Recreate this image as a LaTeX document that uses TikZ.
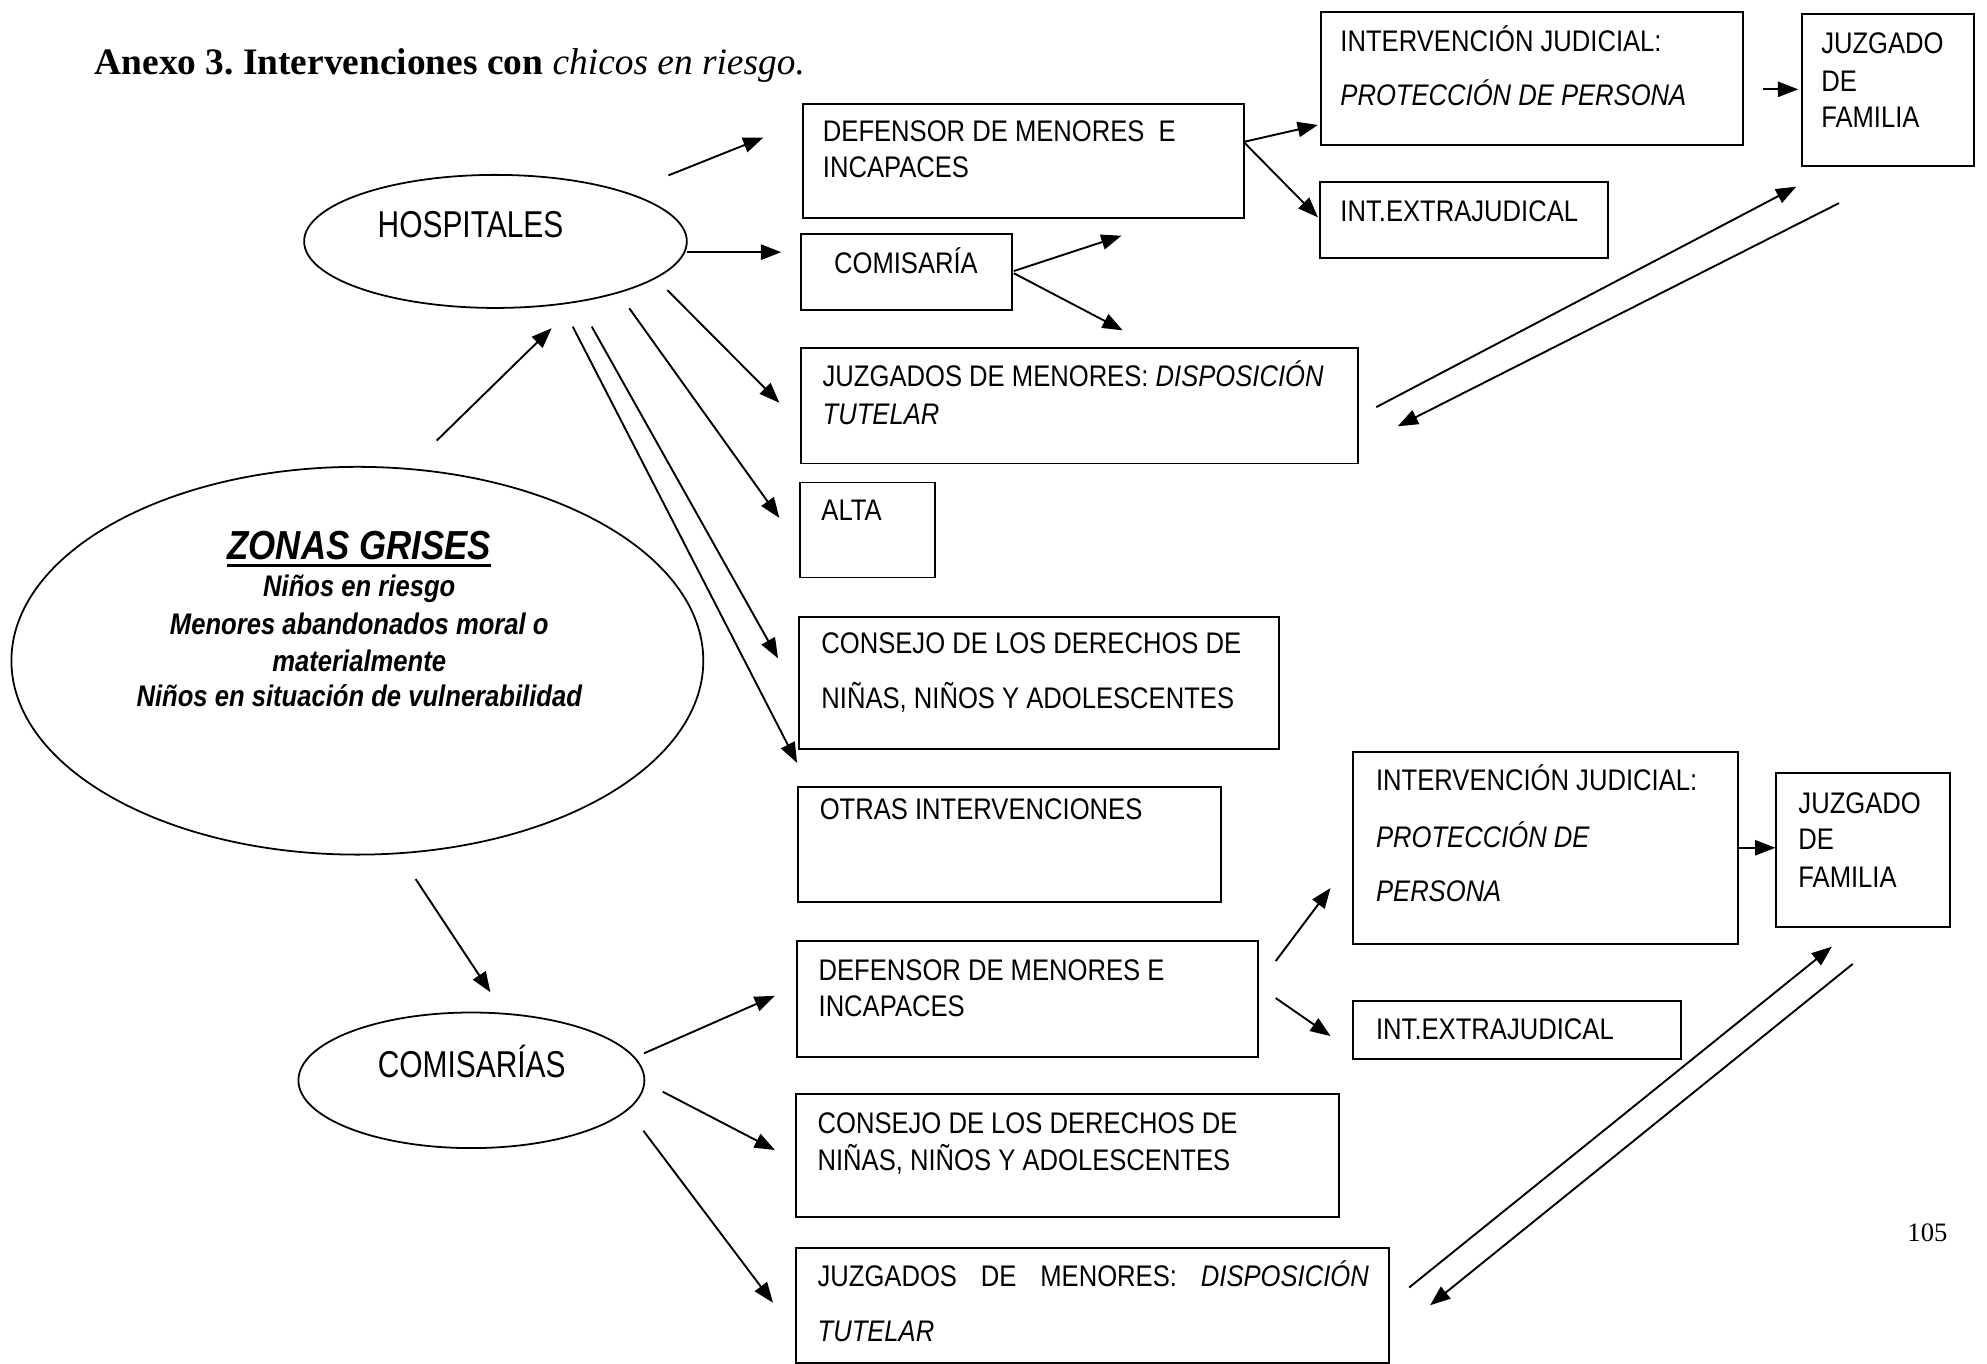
\documentclass[tikz,border=0pt]{standalone}
\usepackage{fontspec}
\setmainfont{Liberation Sans}
\newfontfamily\boxfont{Liberation Sans}[FakeStretch=0.86]
\newfontfamily\ellfont{Liberation Sans}[FakeStretch=0.8]
\newfontfamily\titlefont{Liberation Serif}
\usetikzlibrary{shapes.geometric,arrows.meta}
\tikzset{
  box/.style={draw, line width=1.5pt, rectangle, inner sep=0pt, anchor=north west},
  ell/.style={draw, line width=1.4pt, ellipse, inner sep=0pt},
  btxt/.style={anchor=base west, inner sep=0pt, font=\boxfont\fontsize{23.5}{28}\selectfont},
  etxt/.style={anchor=base, inner sep=0pt, font=\ellfont\fontsize{29.5}{34}\selectfont},
  ztxt/.style={anchor=base, inner sep=0pt, font=\boxfont\bfseries\itshape\fontsize{23.5}{26}\selectfont},
  arr/.style={line width=1.5pt, -{Triangle[length=16pt,width=12pt]}},
}
\begin{document}
\begin{tikzpicture}[x=1pt,y=-1pt]
\useasboundingbox (0,0) rectangle (1568,1075.6);

% title and page number
\node[anchor=base west, inner sep=0pt, font=\titlefont\fontsize{29.5}{34}\selectfont] (title) at (74.5,59)
  {\textbf{Anexo 3.\ Intervenciones con} \textit{chicos en riesgo.}};
\node[anchor=base west, inner sep=0pt, font=\titlefont\fontsize{21}{24}\selectfont] (pg) at (1505,980) {105};

% ellipses
\node[ell, minimum width=302, minimum height=105] (hosp) at (391,190.5) {};
\node[etxt] (hospt) at (371.3,187.3) {HOSPITALES};
\node[ell, minimum width=546, minimum height=306] (zon) at (282,521.4) {};
\node[ztxt, font=\boxfont\bfseries\itshape\fontsize{32}{36}\selectfont] (zg) at (283.5,441.5) {ZONAS GRISES};
\draw[line width=2.2pt] ([yshift=-4.5pt]zg.base west) -- ([yshift=-4.5pt]zg.base east);
\node[ztxt] (z1) at (283.5,470.5) {Niños en riesgo};
\node[ztxt] (z2) at (283.5,500.5) {Menores abandonados moral o};
\node[ztxt] (z3) at (283.5,529.5) {materialmente};
\node[ztxt] (z4) at (283.5,557.4) {Niños en situación de vulnerabilidad};
\node[ell, minimum width=273, minimum height=107] (comis) at (372,852.5) {};
\node[etxt] (comist) at (372.2,850) {COMISARÍAS};

% upper boxes
\node[box, minimum width=348, minimum height=90] (def1) at (633,81) {};
\node[btxt] (def1a) at (649.2,111.5) {DEFENSOR DE MENORES\ \ E};
\node[btxt] (def1b) at (649.2,140) {INCAPACES};

\node[box, minimum width=166.5, minimum height=60] (com) at (631.5,184) {};
\node[btxt] (comt) at (658,215.5) {COMISARÍA};

\node[box, minimum width=439.5, minimum height=91] (juz1) at (631.5,274) {};
\node[btxt] (juz1a) at (649,305) {JUZGADOS DE MENORES: \textit{DISPOSICIÓN}};
\node[btxt] (juz1b) at (649,335) {\textit{TUTELAR}};

\node[box, minimum width=106.5, minimum height=75] (alta) at (630.5,380) {};
\node[btxt] (altat) at (648,411) {ALTA};

\node[box, minimum width=378.5, minimum height=104] (cons1) at (630,486) {};
\node[btxt] (cons1a) at (648,516) {CONSEJO DE LOS DERECHOS DE};
\node[btxt] (cons1b) at (648,559) {NIÑAS, NIÑOS Y ADOLESCENTES};

\node[box, minimum width=334, minimum height=91] (otras) at (629,620) {};
\node[btxt] (otrast) at (646.7,647) {OTRAS INTERVENCIONES};

\node[box, minimum width=333, minimum height=105] (int1) at (1042,9) {};
\node[btxt] (int1a) at (1057.6,40.5) {INTERVENCIÓN JUDICIAL:};
\node[btxt] (int1b) at (1057.6,83) {\textit{PROTECCIÓN DE PERSONA}};

\node[box, minimum width=227.5, minimum height=60] (ext1) at (1041,143) {};
\node[btxt] (ext1t) at (1057.6,175) {INT.EXTRAJUDICAL};

\node[box, minimum width=136, minimum height=120] (jf1) at (1421,10) {};
\node[btxt] (jf1a) at (1437,42) {JUZGADO};
\node[btxt] (jf1b) at (1437,72) {DE};
\node[btxt] (jf1c) at (1437,100.5) {FAMILIA};

% lower boxes
\node[box, minimum width=304, minimum height=151.5] (int2) at (1067,593) {};
\node[btxt] (int2a) at (1085.7,624) {INTERVENCIÓN JUDICIAL:};
\node[btxt] (int2b) at (1085.7,669) {\textit{PROTECCIÓN DE}};
\node[btxt] (int2c) at (1085.7,711) {\textit{PERSONA}};

\node[box, minimum width=137, minimum height=122] (jf2) at (1401,609) {};
\node[btxt] (jf2a) at (1419,641.6) {JUZGADO};
\node[btxt] (jf2b) at (1419,670.7) {DE};
\node[btxt] (jf2c) at (1419,700) {FAMILIA};

\node[box, minimum width=364, minimum height=91] (def2) at (628,742) {};
\node[btxt] (def2a) at (645.8,773.4) {DEFENSOR DE MENORES E};
\node[btxt] (def2b) at (645.8,801.8) {INCAPACES};

\node[box, minimum width=258.5, minimum height=46] (ext2) at (1067,789) {};
\node[btxt] (ext2t) at (1085.7,820) {INT.EXTRAJUDICAL};

\node[box, minimum width=428.5, minimum height=97] (cons2) at (627.5,862.5) {};
\node[btxt] (cons2a) at (645,894.4) {CONSEJO DE LOS DERECHOS DE};
\node[btxt] (cons2b) at (645,923.3) {NIÑAS, NIÑOS Y ADOLESCENTES};

\node[box, minimum width=468, minimum height=90.6] (juz2) at (627.5,984) {};
\node[btxt] (juz2a) at (645,1015.4) {\makebox[435pt][s]{JUZGADOS DE MENORES: \textit{DISPOSICIÓN}}};
\node[btxt] (juz2b) at (645,1058.8) {\textit{TUTELAR}};

% arrow end points
\coordinate (h1s) at (527.5,138.4);  \coordinate (h1e) at (602.4,108.5);
\coordinate (h2s) at (542.4,199);    \coordinate (h2e) at (616.5,199);
\coordinate (h3s) at (526.6,228.9);  \coordinate (h3e) at (615,317.8);
\coordinate (h4s) at (496.6,243.3);  \coordinate (h4e) at (615,408.7);
\coordinate (h5s) at (467,257.8);    \coordinate (h5e) at (614,519.6);
\coordinate (h6s) at (452,257.8);    \coordinate (h6e) at (629,602);
\coordinate (zhs) at (344.6,347.7);  \coordinate (zhe) at (435.3,259);
\coordinate (c1s) at (800,213.9);    \coordinate (c1e) at (885,186);
\coordinate (c2s) at (800,215.6);    \coordinate (c2e) at (886,260.7);
\coordinate (d1s) at (981.4,112);    \coordinate (d1e) at (1040,98.6);
\coordinate (d2e) at (1040,171.5);
\coordinate (i1s) at (1391,70.5);    \coordinate (i1e) at (1419,70.5);
\coordinate (u1s) at (1086,321.3);   \coordinate (u1e) at (1417.5,147.3);
\coordinate (u2s) at (1451.2,160.3); \coordinate (u2e) at (1103,336.4);
\coordinate (zcs) at (328,693.7);    \coordinate (zce) at (387,783);
\coordinate (k1s) at (508.2,831.2);  \coordinate (k1e) at (611.5,785.8);
\coordinate (k2s) at (523,861.5);    \coordinate (k2e) at (611.5,907.5);
\coordinate (k3s) at (507.7,892.3);  \coordinate (k3e) at (610,1028);
\coordinate (e1s) at (1006.7,758.4); \coordinate (e1e) at (1050,700.7);
\coordinate (e2s) at (1006.7,787.6); \coordinate (e2e) at (1050,817.6);
\coordinate (i2s) at (1371,669);     \coordinate (i2e) at (1401,669);
\coordinate (v1s) at (1112,1016);    \coordinate (v1e) at (1445.6,747);
\coordinate (v2s) at (1462,760.7);   \coordinate (v2e) at (1128.5,1030);

% arrows
\draw[arr] (h1s) -- (h1e);
\draw[arr] (h2s) -- (h2e);
\draw[arr] (h3s) -- (h3e);
\draw[arr] (h4s) -- (h4e);
\draw[arr] (h5s) -- (h5e);
\draw[arr] (h6s) -- (h6e);
\draw[arr] (zhs) -- (zhe);
\draw[arr] (c1s) -- (c1e);
\draw[arr] (c2s) -- (c2e);
\draw[arr] (d1s) -- (d1e);
\draw[arr] (d1s) -- (d2e);
\draw[arr] (i1s) -- (i1e);
\draw[arr] (u1s) -- (u1e);
\draw[arr] (u2s) -- (u2e);
\draw[arr] (zcs) -- (zce);
\draw[arr] (k1s) -- (k1e);
\draw[arr] (k2s) -- (k2e);
\draw[arr] (k3s) -- (k3e);
\draw[arr] (e1s) -- (e1e);
\draw[arr] (e2s) -- (e2e);
\draw[arr] (i2s) -- (i2e);
\draw[arr] (v1s) -- (v1e);
\draw[arr] (v2s) -- (v2e);
\end{tikzpicture}
\end{document}
